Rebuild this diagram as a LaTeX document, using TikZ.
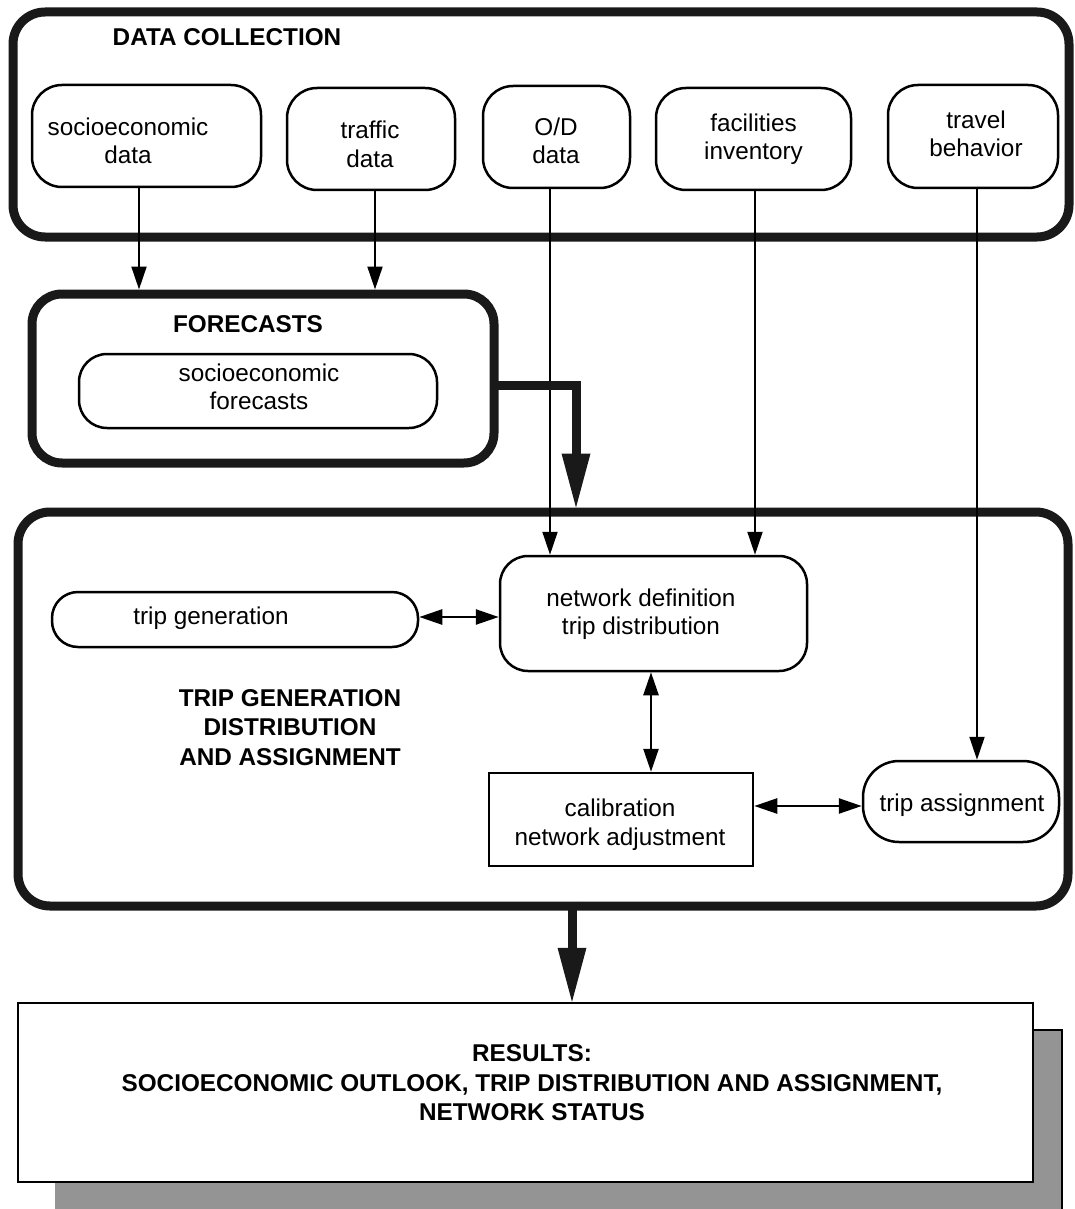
\documentclass[tikz,border=0pt]{standalone}
\usepackage{fontspec}
\setmainfont{Liberation Sans}
\usetikzlibrary{arrows.meta}
\tikzset{
  outerbox/.style={draw=black!90, line width=9pt, rounded corners=32pt, inner sep=0pt},
  databox/.style={draw, line width=2.5pt, rounded corners=30pt, align=center, inner sep=0pt},
  plainbox/.style={draw, line width=2.5pt, align=center, inner sep=0pt},
  txt/.style={align=center, inner sep=0pt},
  head/.style={align=center, inner sep=0pt, font=\fontsize{24.3}{29.5}\selectfont\bfseries},
  thinarrow/.style={line width=2pt, -{Triangle[length=23pt,width=15pt]}},
  twoway/.style={line width=2.5pt, {Triangle[length=23pt,width=15pt]}-{Triangle[length=23pt,width=15pt]}},
  fatarrow/.style={line width=9pt, draw=black!90, -{Triangle[length=54pt,width=29pt,line width=0pt]}}
}
\begin{document}
\begin{tikzpicture}[x=1pt, y=-1pt, font=\fontsize{24.3}{28.5}\selectfont]
\useasboundingbox (0,0) rectangle (1075,1209);
\fill[white] (0,0) rectangle (1075,1209);

% ---------- DATA COLLECTION ----------
\node[outerbox, minimum width=1056pt, minimum height=225pt] (dc) at (541,124.5) {};
\node[head] (dcT) at (227,37) {DATA COLLECTION};
\node[databox, minimum width=229pt, minimum height=102pt] (sd) at (146.5,136) {};
\node[txt] (sdT) at (128,141) {socioeconomic\\data};
\node[databox, minimum width=168pt, minimum height=102pt] (td) at (371,139) {};
\node[txt] (tdT) at (370,144.5) {traffic\\data};
\node[databox, minimum width=147pt, minimum height=102pt] (od) at (556.5,137) {};
\node[txt] (odT) at (556,141) {O/D\\data};
\node[databox, minimum width=195pt, minimum height=102pt] (fi) at (753.5,139) {facilities\\inventory};
\node[databox, minimum width=170pt, minimum height=103pt] (tb) at (973,136.5) {};
\node[txt] (tbT) at (976,134) {travel\\behavior};

% ---------- FORECASTS ----------
\node[outerbox, rounded corners=30pt, minimum width=462pt, minimum height=169pt] (fc) at (263,378.5) {};
\node[head] (fcT) at (248,324) {FORECASTS};
\node[databox, rounded corners=28pt, minimum width=358pt, minimum height=74pt] (sf) at (258,391) {};
\node[txt] (sfT) at (259,387) {socioeconomic\\forecasts};

% ---------- TRIP GENERATION / DISTRIBUTION / ASSIGNMENT ----------
\node[outerbox, minimum width=1050pt, minimum height=394pt] (tgda) at (543,709) {};
\node[head] (tgdaT) at (290,727.5) {TRIP GENERATION\\DISTRIBUTION\\AND ASSIGNMENT};
\node[databox, rounded corners=26pt, minimum width=366pt, minimum height=55pt] (tg) at (235,619.5) {};
\node[txt] (tgT) at (211,618) {trip generation};
\node[databox, rounded corners=28pt, minimum width=307pt, minimum height=115pt] (nd) at (653.5,613.5) {};
\node[txt] (ndT) at (641,614) {network definition\\trip distribution};
\node[plainbox, minimum width=264pt, minimum height=93pt] (cal) at (621,819.5) {};
\node[txt] (calT) at (620,824.5) {calibration\\network adjustment};
\node[databox, rounded corners=36pt, minimum width=196pt, minimum height=81pt] (ta) at (961,801.5) {};
\node[txt] (taT) at (962,805) {trip assignment};

% ---------- RESULTS ----------
\fill[black!42] (55,1030) rectangle (1062,1212);
\draw[line width=2.5pt] (1033,1030) -- (1062,1030) -- (1062,1212);
\node[plainbox, fill=white, minimum width=1015pt, minimum height=179pt] (res) at (525.5,1092.5) {};
\node[head] (resT) at (532,1083) {RESULTS:\\SOCIOECONOMIC OUTLOOK, TRIP DISTRIBUTION AND ASSIGNMENT,\\NETWORK STATUS};

% ---------- helper coordinates ----------
\coordinate (xSD) at (139,0);
\coordinate (xTD) at (375,0);
\coordinate (xOD) at (550,0);
\coordinate (xFI) at (755,0);
\coordinate (xTB) at (977,0);
\coordinate (xND) at (651,0);
\coordinate (yF) at (0,385);
\coordinate (xF) at (576,0);
\coordinate (xR) at (572,0);
\coordinate (yTG) at (0,617);
\coordinate (yCA) at (0,806);

% ---------- connectors ----------
\draw[thinarrow] (sd.south -| xSD) -- (fc.north -| xSD);
\draw[thinarrow] (td.south -| xTD) -- (fc.north -| xTD);
\draw[thinarrow] (od.south -| xOD) -- (nd.north -| xOD);
\draw[thinarrow] (fi.south -| xFI) -- (nd.north -| xFI);
\draw[thinarrow] (tb.south -| xTB) -- (ta.north -| xTB);
\draw[fatarrow] ([xshift=-4.5pt]fc.east |- yF) -| (tgda.north -| xF);
\draw[twoway] (tg.east |- yTG) -- (nd.west |- yTG);
\draw[twoway] (nd.south -| xND) -- (cal.north -| xND);
\draw[twoway] (cal.east |- yCA) -- (ta.west |- yCA);
\draw[fatarrow] ([yshift=9pt]tgda.south -| xR) -- (res.north -| xR);
\end{tikzpicture}
\end{document}
